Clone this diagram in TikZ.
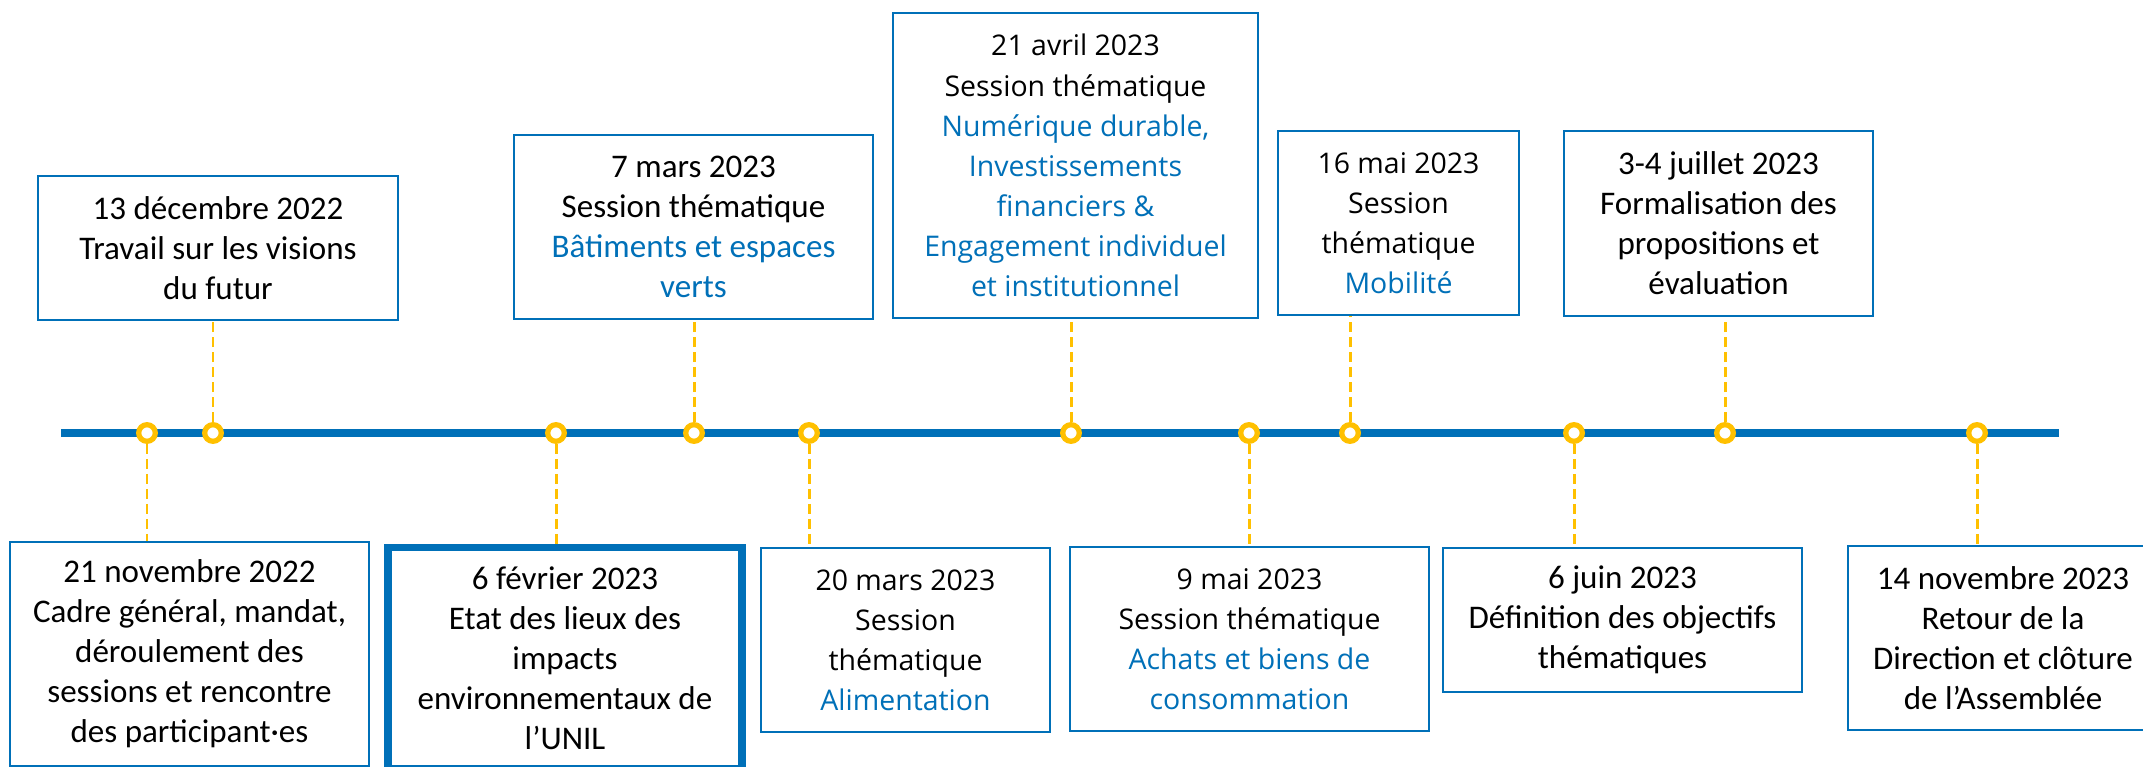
\documentclass[tikz,border=0pt]{standalone}
\usepackage{fontspec}
\setmainfont{Carlito}
\newfontfamily\segoe{Open Sans}
\definecolor{tlblue}{HTML}{0070B8}
\definecolor{tlyellow}{HTML}{FFC000}
\newcommand\hlt[1]{\textcolor{tlblue}{#1}}
\tikzset{
  evbox/.style={draw=tlblue, line width=1.4pt, fill=white, align=center, inner sep=0pt,
    font=\fontsize{18.8}{22.8}\selectfont},
  evsegoe/.style={evbox, font=\segoe\fontsize{16.2}{22.8}\selectfont},
  tldot/.style={circle, draw=tlyellow, line width=3pt, fill=white, minimum size=0.332cm, inner sep=0pt},
  evlink/.style={draw=tlyellow, line width=1.7pt, dash pattern=on 0.2cm off 0.1cm},
  tlline/.style={draw=tlblue, line width=5.1pt}
}
\begin{document}
\begin{tikzpicture}[x=0.02cm, y=-0.02cm]
	\useasboundingbox (0,0) rectangle (2143,767);
	\clip (0,0) rectangle (2143,767);

	\coordinate (tlstart) at (61,433);
	\coordinate (tlend) at (2059,433);
	\draw[tlline] (tlstart) -- (tlend);

	\node[evbox, minimum width=7.2cm, minimum height=2.88cm] (dec13) at (218,248) {13 décembre 2022\\Travail sur les visions\\du futur};
	\node[evbox, minimum width=7.18cm, minimum height=4.48cm] (nov21) at (189.5,654) {21 novembre 2022\\Cadre général, mandat,\\déroulement des\\sessions et rencontre\\des participant·es};
	\node[evbox, line width=4.5pt, minimum width=7.08cm, minimum height=4.42cm] (fev6) at (565,658) {6 février 2023\\Etat des lieux des\\impacts\\environnementaux de\\l’UNIL};
	\node[evbox, minimum width=7.18cm, minimum height=3.68cm] (mar7) at (693.5,227) {7 mars 2023\\Session thématique\\\hlt{Bâtiments et espaces}\\\hlt{verts}};
	\node[evsegoe, minimum width=5.78cm, minimum height=3.68cm] (mar20) at (905.5,640) {20 mars 2023\\Session\\thématique\\\hlt{Alimentation}};
	\node[evsegoe, minimum width=7.3cm, minimum height=6.1cm] (avr21) at (1075.5,165.5) {21 avril 2023\\Session thématique\\\hlt{Numérique durable,}\\\hlt{Investissements}\\\hlt{financiers \&}\\\hlt{Engagement individuel}\\\hlt{et institutionnel}};
	\node[evsegoe, minimum width=7.18cm, minimum height=3.68cm] (mai9) at (1249.5,639) {9 mai 2023\\Session thématique\\\hlt{Achats et biens de}\\\hlt{consommation}};
	\node[evsegoe, minimum width=4.82cm, minimum height=3.68cm] (mai16) at (1398.5,223) {16 mai 2023\\Session\\thématique\\\hlt{Mobilité}};
	\node[evbox, minimum width=7.18cm, minimum height=2.88cm] (juin6) at (1622.5,620) {6 juin 2023\\Définition des objectifs\\thématiques};
	\node[evbox, minimum width=6.18cm, minimum height=3.7cm] (jul34) at (1718.5,223.5) {3-4 juillet 2023\\Formalisation des\\propositions et\\évaluation};
	\node[evbox, minimum width=6.2cm, minimum height=3.68cm] (nov14) at (2003,638) {14 novembre 2023\\Retour de la\\Direction et clôture\\de l’Assemblée};

	\node[tldot] (dnov21) at (147,433) {};
	\node[tldot] (ddec13) at (213,433) {};
	\node[tldot] (dfev6) at (556,433) {};
	\node[tldot] (dmar7) at (694,433) {};
	\node[tldot] (dmar20) at (809,433) {};
	\node[tldot] (davr21) at (1071,433) {};
	\node[tldot] (dmai9) at (1249,433) {};
	\node[tldot] (dmai16) at (1350,433) {};
	\node[tldot] (djuin6) at (1574,433) {};
	\node[tldot] (djul34) at (1725,433) {};
	\node[tldot] (dnov14) at (1977,433) {};

	\draw[evlink] (ddec13.north) -- (ddec13 |- dec13.south);
	\draw[evlink] (dmar7.north) -- (dmar7 |- mar7.south);
	\draw[evlink] (davr21.north) -- (davr21 |- avr21.south);
	\draw[evlink] (dmai16.north) -- (dmai16 |- mai16.south);
	\draw[evlink] (djul34.north) -- (djul34 |- jul34.south);
	\draw[evlink] (dnov21.south) -- (dnov21 |- nov21.north);
	\draw[evlink] (dfev6.south) -- (dfev6 |- fev6.north);
	\draw[evlink] (dmar20.south) -- (dmar20 |- mar20.north);
	\draw[evlink] (dmai9.south) -- (dmai9 |- mai9.north);
	\draw[evlink] (djuin6.south) -- (djuin6 |- juin6.north);
	\draw[evlink] (dnov14.south) -- (dnov14 |- nov14.north);

\end{tikzpicture}
\end{document}
